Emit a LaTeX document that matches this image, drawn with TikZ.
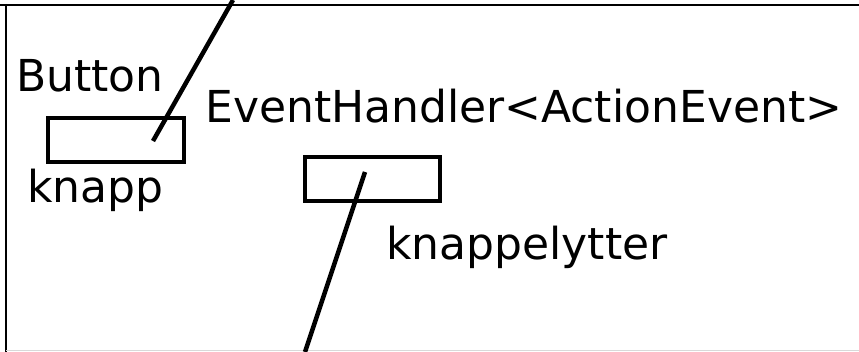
\documentclass[tikz,border=0pt]{standalone}
\usepackage{fontspec}
\setmainfont{DejaVu Sans}
\begin{document}
\begin{tikzpicture}[x=1pt,y=-1pt,
  lbl/.style={anchor=base west,inner sep=0pt,font=\fontsize{44}{48}\selectfont},
  obj/.style={draw,line width=3.5pt,inner sep=0pt,minimum width=#1,minimum height=44pt},
  ref/.style={line width=4.5pt},
  frame/.style={line width=2.5pt}]
\useasboundingbox (0,0) rectangle (859,352);
% frame
\coordinate (ftl) at (0,5);
\coordinate (ftr) at (859,5);
\coordinate (flt) at (6,4);
\coordinate (flb) at (6,352);
\coordinate (fbl) at (6,351);
\coordinate (fbr) at (859,351);
\draw[frame] (ftl) -- (ftr);
\draw[frame] (flt) -- (flb);
\draw[gray!30,line width=1pt] (fbl) -- (fbr);
% labels
\node[lbl] (button) at (16,92) {Button};
\node[lbl] (handler) at (205,123) {EventHandler<ActionEvent>};
\node[lbl] (knapp) at (27,203) {knapp};
\node[lbl] (lytter) at (386,260) {knappelytter};
% objects
\node[obj=136pt] (box1) at (116,140) {};
\node[obj=135pt] (box2) at (372.5,179) {};
% references
\coordinate (r1top) at (233,0);
\coordinate (r1end) at (153,141);
\coordinate (r2end) at (365,172);
\coordinate (r2bot) at (305,352);
\draw[ref] (r1top) -- (r1end);
\draw[ref] (r2end) -- (r2bot);
\end{tikzpicture}
\end{document}
